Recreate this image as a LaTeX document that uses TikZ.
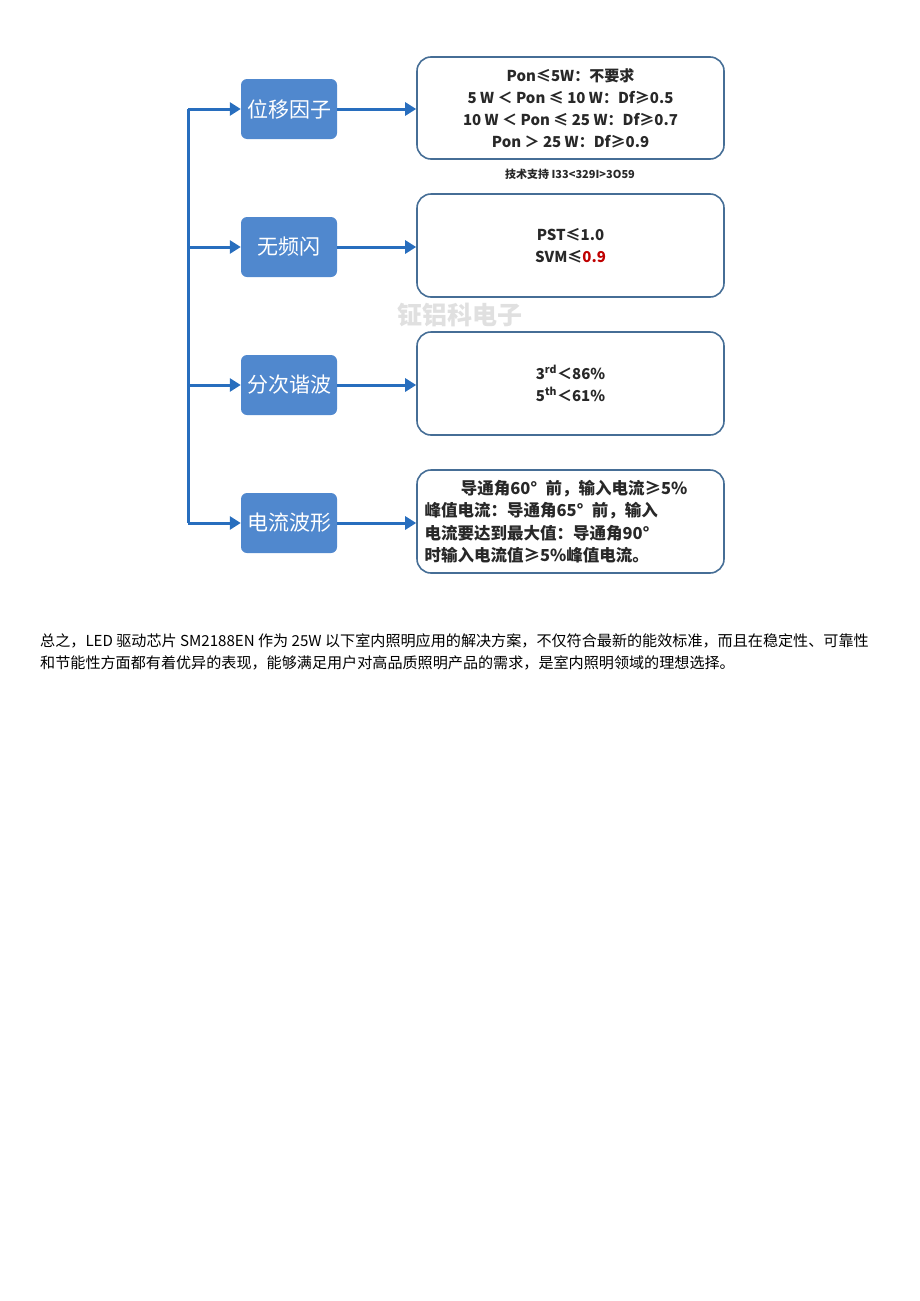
\documentclass[tikz,border=0pt]{standalone}
\usepackage{fontspec}
\setmainfont{Liberation Sans}
\newfontfamily\cjk{Noto Sans CJK SC}
\usetikzlibrary{arrows.meta}
\definecolor{bfill}{RGB}{80,136,206}
\definecolor{arr}{RGB}{40,110,190}
\definecolor{wb}{RGB}{70,110,150}
\definecolor{txt}{RGB}{40,40,40}
\begin{document}
\begin{tikzpicture}[x=1pt,y=-1pt,
 bluebox/.style={fill=bfill,rounded corners=6pt,minimum width=96pt,minimum height=60pt,text=white,font=\cjk\fontsize{21}{21}\selectfont},
 whitebox/.style={draw=wb,line width=1.6pt,rounded corners=14pt,minimum width=307pt,text=txt,font=\cjk\bfseries\fontsize{15}{22}\selectfont,align=center},
 conn/.style={draw=arr,line width=3pt,-{Triangle[length=11pt,width=13pt]}}]
\useasboundingbox (0,0) rectangle (920,1301);
\node[bluebox] (b1) at (289,109) {位移因子};
\node[bluebox] (b2) at (289,247) {无频闪};
\node[bluebox] (b3) at (289,385) {分次谐波};
\node[bluebox] (b4) at (289,523) {电流波形};
\node[whitebox,minimum height=102pt] (w1) at (570.5,108) {Pon≤5W：不要求\\5 W ＜ Pon ≤ 10 W：Df≥0.5\\10 W ＜ Pon ≤ 25 W：Df≥0.7\\Pon ＞ 25 W：Df≥0.9};
\node[whitebox,minimum height=103pt] (w2) at (570.5,245.5) {PST≤1.0\\SVM≤\textcolor{red!75!black}{0.9}};
\node[whitebox,minimum height=103pt] (w3) at (570.5,383.5) {3\textsuperscript{rd}＜86\%\\5\textsuperscript{th}＜61\%};
\node[whitebox,minimum height=103pt,align=left,text width=292pt,font=\cjk\bfseries\fontsize{16.5}{22.5}\selectfont] (w4) at (570.5,521.5) {\hspace*{2.2em}导通角60°\hspace{0.5em}前，输入电流≥5\%\\峰值电流：导通角65°\hspace{0.5em}前，输入\\电流要达到最大值：导通角90°\\时输入电流值≥5\%峰值电流。};
\node[font=\cjk\bfseries\fontsize{11}{12}\selectfont,text=txt] (ts) at (570,174) {技术支持 I33<329I>3O59};
\node[font=\cjk\bfseries\fontsize{25}{25}\selectfont,text=black!12] (wm) at (460,315) {钲铝科电子};
\coordinate (top) at (188,109);
\coordinate (c2) at (188,247);
\coordinate (c3) at (188,385);
\coordinate (bot) at (188,523);
\draw[draw=arr,line width=3pt] (top) -- (bot);
\foreach \i/\c in {1/top,2/c2,3/c3,4/bot}{
 \draw[conn] (\c) -- (b\i.west);
 \draw[conn] (b\i.east) -- (b\i.east -| w\i.west);
}
\node[anchor=west,font=\cjk\fontsize{15.1}{22}\selectfont,align=left,inner sep=0pt] (para) at (40,652) {总之，LED 驱动芯片 SM2188EN 作为 25W 以下室内照明应用的解决方案，不仅符合最新的能效标准，而且在稳定性、可靠性\\和节能性方面都有着优异的表现，能够满足用户对高品质照明产品的需求，是室内照明领域的理想选择。};
\end{tikzpicture}
\end{document}
